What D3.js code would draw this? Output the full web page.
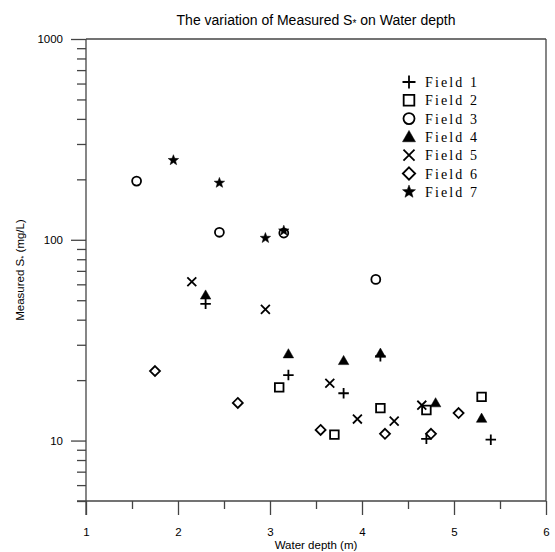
<!DOCTYPE html>
<html><head><meta charset="utf-8">
<script src="https://cdn.jsdelivr.net/npm/d3@7"></script>
<style>body{margin:0;background:#fff;} svg{display:block;}</style>
</head><body>
<script>
// ---- data ----
const seriesNames = ["Field 1","Field 2","Field 3","Field 4","Field 5","Field 6","Field 7"];
const field1X = [2.3, 3.2, 3.8, 4.2, 4.7, 5.4];
const field1Y = [48, 21.2, 17.2, 26.3, 10.2, 10.1];
const field2X = [3.1, 3.7, 4.2, 4.7, 5.3];
const field2Y = [18.4, 10.7, 14.5, 14.2, 16.5];
const field3X = [1.55, 2.45, 3.15, 4.15];
const field3Y = [196, 109, 108, 63.5];
const field4X = [2.3, 3.2, 3.8, 4.2, 4.8, 5.3];
const field4Y = [53, 27, 25, 27.2, 15.4, 12.9];
const field5X = [2.15, 2.95, 3.65, 3.95, 4.35, 4.65];
const field5Y = [61.8, 45, 19.3, 12.8, 12.5, 15.0];
const field6X = [1.75, 2.65, 3.55, 4.25, 4.75, 5.05];
const field6Y = [22.2, 15.4, 11.3, 10.8, 10.8, 13.7];
const field7X = [1.95, 2.45, 2.95, 3.15];
const field7Y = [249, 192, 102, 111];
const xTicks = [1,2,3,4,5,6];
const xMinor = [1.5,2.5,3.5,4.5,5.5];
const yTicks = [10,100,1000];
const yMinor = [5,6,7,8,9,20,30,40,50,60,70,80,90,200,300,400,500,600,700,800,900];

const seriesX = [field1X,field2X,field3X,field4X,field5X,field6X,field7X];
const seriesY = [field1Y,field2Y,field3Y,field4Y,field5Y,field6Y,field7Y];
const shapes = ["plus","square","circle","triangle","cross","diamond","star"];

const W=555,H=552;
const L=86,R=546,T=39,B=501;
const axisColor="#444";
const svg=d3.select("body").append("svg").attr("width",W).attr("height",H);
const x=d3.scaleLinear().domain([1,6]).range([L,R]);
const y=d3.scaleLog().domain([5,1000]).range([B,T]);

// frame
svg.append("line").attr("x1",L).attr("x2",R).attr("y1",T).attr("y2",T).attr("stroke",axisColor).attr("stroke-width",1.3);
svg.append("line").attr("x1",R).attr("x2",R).attr("y1",T).attr("y2",B).attr("stroke",axisColor).attr("stroke-width",1.3);

// y axis
const gy=svg.append("g").attr("transform",`translate(${L},0)`);
gy.call(d3.axisLeft(y).tickValues(yMinor).tickSize(9).tickFormat(""));
gy.call(g=>g.append("g").call(d3.axisLeft(y).tickValues(yTicks).tickSize(15).tickPadding(8).tickFormat(d3.format("d"))));
gy.selectAll(".domain").remove();
gy.selectAll("line").attr("stroke",axisColor).attr("stroke-width",1.3);
gy.selectAll("text").attr("font-family","Liberation Sans, Arial, sans-serif").attr("font-size",11.5).attr("fill","#000");
svg.append("line").attr("x1",L).attr("x2",L).attr("y1",T).attr("y2",B+14).attr("stroke",axisColor).attr("stroke-width",1.3);

// x axis
const gx=svg.append("g").attr("transform",`translate(0,${B})`);
gx.call(d3.axisBottom(x).tickValues(xMinor).tickSize(8).tickFormat(""));
gx.call(g=>g.append("g").call(d3.axisBottom(x).tickValues(xTicks).tickSize(14).tickPadding(13).tickFormat(d3.format("d"))));
gx.selectAll(".domain").remove();
gx.selectAll("line").attr("stroke",axisColor).attr("stroke-width",1.3);
gx.selectAll("text").attr("font-family","Liberation Sans, Arial, sans-serif").attr("font-size",11.5).attr("fill","#000");
svg.append("line").attr("x1",L-9).attr("x2",R).attr("y1",B).attr("y2",B).attr("stroke",axisColor).attr("stroke-width",1.3);

// titles
const sans="Liberation Sans, Arial, sans-serif";
const title=svg.append("text").attr("x",(L+R)/2).attr("y",25).attr("text-anchor","middle")
  .attr("font-family",sans).attr("font-size",14).attr("fill","#000");
title.append("tspan").text("The variation of Measured S");
title.append("tspan").attr("font-size",10).attr("dy",2).text("*");
title.append("tspan").attr("dy",-2).text(" on Water depth");

svg.append("text").attr("x",(L+R)/2).attr("y",549).attr("text-anchor","middle")
  .attr("font-family",sans).attr("font-size",11.5).attr("fill","#000").text("Water depth (m)");

const yl=svg.append("text").attr("transform",`translate(24,${(T+B)/2}) rotate(-90)`).attr("text-anchor","middle")
  .attr("font-family",sans).attr("font-size",11.5).attr("fill","#000");
yl.append("tspan").text("Measured S");
yl.append("tspan").attr("font-size",8).attr("dy",2).text("*");
yl.append("tspan").attr("dy",-2).text(" (mg/L)");

// symbol paths
function shapePath(type, s){
  const p=d3.path(), h=s/2;
  if(type==="plus"){p.moveTo(-h,0);p.lineTo(h,0);p.moveTo(0,-h);p.lineTo(0,h);}
  else if(type==="cross"){const k=h*0.85;p.moveTo(-k,-k);p.lineTo(k,k);p.moveTo(-k,k);p.lineTo(k,-k);}
  else if(type==="square"){const k=h*0.82;p.rect(-k,-k,2*k,2*k);}
  else if(type==="circle"){p.arc(0,0,h*0.85,0,2*Math.PI);}
  else if(type==="diamond"){const k=h*0.95;p.moveTo(0,-k);p.lineTo(k,0);p.lineTo(0,k);p.lineTo(-k,0);p.closePath();}
  else if(type==="triangle"){const k=h;p.moveTo(0,-k);p.lineTo(k,k*0.75);p.lineTo(-k,k*0.75);p.closePath();}
  else if(type==="star"){const ro=h*1.05,ri=ro*0.42;for(let i=0;i<10;i++){const a=-Math.PI/2+i*Math.PI/5,r=i%2?ri:ro;const px=r*Math.cos(a),py=r*Math.sin(a);i?p.lineTo(px,py):p.moveTo(px,py);}p.closePath();}
  return p.toString();
}
function styleShape(sel,type){
  const filled=(type==="triangle"||type==="star");
  sel.attr("fill",filled?"#000":"none").attr("stroke","#000").attr("stroke-width",filled?0.5:1.8);
}

// points
seriesNames.forEach((name,i)=>{
  const pts=seriesX[i].map((v,j)=>({x:v,y:seriesY[i][j]}));
  const g=svg.append("g");
  g.selectAll("path").data(pts).enter().append("path")
    .attr("transform",d=>`translate(${x(d.x)},${y(d.y)})`)
    .attr("d",shapePath(shapes[i],10.5))
    .call(s=>styleShape(s,shapes[i]));
});

// legend
const lg=svg.append("g");
seriesNames.forEach((name,i)=>{
  const yy=82+i*18.3;
  lg.append("path").attr("transform",`translate(409,${yy})`).attr("d",shapePath(shapes[i],13)).call(s=>styleShape(s,shapes[i]));
  lg.append("text").attr("x",425).attr("y",yy+5).attr("font-family","Liberation Serif, Times New Roman, serif")
    .attr("font-size",14).attr("letter-spacing",2.1).attr("fill","#000").text(name);
});
</script>
</body></html>
